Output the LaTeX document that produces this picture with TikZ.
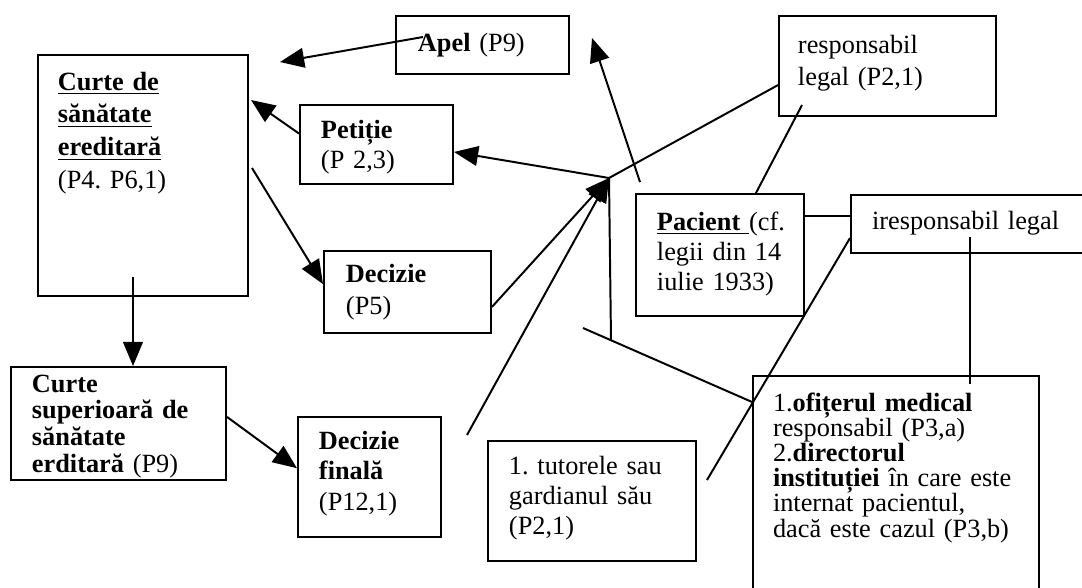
\documentclass[tikz,border=0pt]{standalone}
\usepackage{fontspec}
\setmainfont{Liberation Serif}
\usetikzlibrary{arrows.meta}
\frenchspacing
\begin{document}
\begin{tikzpicture}[x=0.456pt, y=-0.456pt, line width=0.9pt,
  box/.style 2 args={draw, anchor=north west, inner sep=0pt,
    minimum width=#1*0.456pt, minimum height=#2*0.456pt},
  txt/.style={anchor=base west, align=left, inner sep=0pt, text width=#1*0.456pt,
    font=\fontsize{12}{13.5}\selectfont},
  txt/.default=220,
  arr/.style={-{Triangle[length=11pt, width=9pt]}}]
  \useasboundingbox (0,0) rectangle (1082,587);

  % boxes
  \node[box={210}{241}] (court) at (37,54) {};
  \node[box={173}{58}] (apel) at (395,15) {};
  \node[box={153}{79}] (petitie) at (299,104) {};
  \node[box={167}{82}] (decizie) at (323,250) {};
  \node[box={217}{100}] (resp) at (778,15) {};
  \node[box={168}{122}] (pacient) at (635,193) {};
  \node[box={260}{58}] (iresp) at (850,194) {};
  \node[box={215}{113}] (sup) at (10,366) {};
  \node[box={143}{120}] (final) at (297,416) {};
  \node[box={208}{120}] (tutor) at (487,440) {};
  \node[box={286}{240}] (ofit) at (752,375) {};

  % texts
  \node[txt, font=\fontsize{12}{15}\selectfont] (courttext) at (57,90)
    {\textbf{\underline{Curte de}}\\\textbf{\underline{sănătate}}\\\textbf{\underline{ereditară}}\\(P4. P6,1)};
  \node[txt] (apeltext) at (417,51) {\textbf{Apel} (P9)};
  \node[txt, font=\fontsize{12}{13.7}\selectfont] (petitietext) at (320,138) {\textbf{Petiție}\\(P 2,3)};
  \node[txt, font=\fontsize{12}{14.6}\selectfont] (decizietext) at (345,282) {\textbf{Decizie}\\(P5)};
  \node[txt, font=\fontsize{12}{15}\selectfont] (resptext) at (797,53) {responsabil\\legal (P2,1)};
  \node[txt, font=\fontsize{12}{13.9}\selectfont] (pacienttext) at (656,230)
    {\textbf{\underline{Pacient\ }}(cf.\\legii din 14\\iulie 1933)};
  \node[txt] (iresptext) at (871,229) {iresponsabil legal};
  \node[txt, font=\fontsize{12}{12.3}\selectfont] (suptext) at (31,392)
    {\textbf{Curte}\\\textbf{superioară de}\\\textbf{sănătate}\\\textbf{erditară} (P9)};
  \node[txt, font=\fontsize{12}{14.1}\selectfont] (finaltext) at (318,449)
    {\textbf{Decizie}\\\textbf{finală}\\(P12,1)};
  \node[txt, font=\fontsize{12}{13.9}\selectfont] (tutortext) at (508,474)
    {1. tutorele sau\\gardianul său\\(P2,1)};
  \node[txt=300, font=\fontsize{12}{11.5}\selectfont] (ofittext) at (772,411)
    {1.\textbf{ofițerul medical}\\responsabil (P3,a)\\2.\textbf{directorul}\\\textbf{instituției} în care este\\internat pacientul,\\dacă este cazul (P3,b)};

  % free ends of the connectors
  \coordinate (hub) at (609,178);
  \coordinate (apelfoot) at (423,37);
  \coordinate (apelhead) at (280,62);
  \coordinate (courthead) at (251,100);
  \coordinate (courtfoot) at (252,168);
  \coordinate (courtstem) at (133,277);
  \coordinate (finalfoot) at (467,435);
  \coordinate (join) at (611,340);
  \coordinate (bracket) at (583,328);
  \coordinate (pacfoot) at (640,182);
  \coordinate (pachead) at (592,38);
  \coordinate (respfoot) at (802,105);
  \coordinate (link) at (850,216);
  \coordinate (tutorfoot) at (707,480);
  \coordinate (irespfoot) at (970,237);
  \coordinate (ofittop) at (970,384);

  % connectors
  \draw[arr] (apelfoot) -- (apelhead);
  \draw[arr] ([yshift=5pt]petitie.west) -- (courthead);
  \draw[arr] (courtfoot) -- ([yshift=3.6pt]decizie.west);
  \draw[arr] (courtstem) -- (courtstem |- sup.north);
  \draw[arr] ([yshift=3pt]sup.east) -- ([yshift=4pt]final.west);
  \draw[arr] (hub) -- ([yshift=-3.4pt]petitie.east);
  \draw[arr] ([yshift=-6.8pt]decizie.east) -- (hub);
  \draw[arr] (finalfoot) -- (hub);
  \draw ([yshift=-8.7pt]resp.west) -- (hub);
  \draw (hub) -- (join);
  \draw (bracket) -- ([yshift=-12.3pt]ofit.north west);
  \draw[arr] (pacfoot) -- (pachead);
  \draw (respfoot) -- ([xshift=16.4pt]pacient.north);
  \draw (pacient.east |- link) -- (link);
  \draw ([yshift=-6.4pt]iresp.west) -- (tutorfoot);
  \draw (irespfoot) -- (ofittop);
\end{tikzpicture}
\end{document}
